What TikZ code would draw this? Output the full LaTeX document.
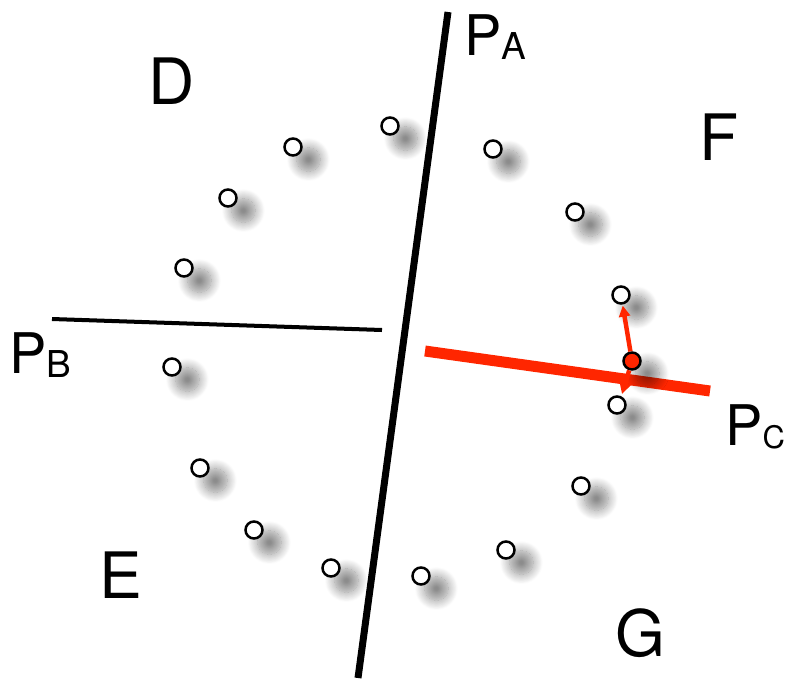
\documentclass[tikz,border=0pt]{standalone}
\usepackage{fontspec}
\setmainfont{TeX Gyre Heros}
\usetikzlibrary{arrows.meta,shadows.blur}
\definecolor{PlaneRed}{RGB}{255,38,0}
\newcommand{\planelabel}[1]{P\raisebox{-4pt}{\fontsize{37}{40}\selectfont #1}}

\begin{document}
\begin{tikzpicture}[x=1pt, y=-1pt,
    every node/.style={inner sep=0pt},
    region/.style={font=\fontsize{64}{70}\selectfont, anchor=base},
    planename/.style={font=\fontsize{56}{60}\selectfont, anchor=base west},
    sample/.style={circle, draw=black, fill=white, line width=2.5pt, minimum size=17pt,
        blur shadow={shadow xshift=11pt, shadow yshift=-9pt, shadow scale=1.4,
            shadow blur radius=7pt, shadow blur steps=16, shadow opacity=45}},
    chosen/.style={sample, fill=PlaneRed},
    pointer/.style={PlaneRed, line width=4.5pt, -{Triangle[length=11pt,width=11pt]}},
]
\useasboundingbox (0,0) rectangle (800,681);

% splitting planes
\coordinate (pa top) at (448,12);
\coordinate (pa bot) at (358,678);
\coordinate (pb left) at (52,319);
\coordinate (pb right) at (382,330);
\coordinate (pc left) at (425,351);
\coordinate (pc right) at (710,391);
\draw[line width=7pt] (pa top) -- (pa bot);
\draw[line width=4pt] (pb left) -- (pb right);
\draw[PlaneRed, line width=11pt] (pc left) -- (pc right);

% samples on the circle
\foreach \x/\y [count=\i] in {390/126, 293/147, 228/198, 184/268, 172/367, 200/468,
    254/530, 331/568, 421/576, 506/550, 581/486, 617/405, 621/295, 575/212, 493/149}
    \node[sample] (p\i) at (\x,\y) {};
\node[chosen] (q) at (632,361) {};

\coordinate (foot) at (622,394);
\draw[pointer, shorten >=1pt] (q) -- (p13);
\draw[pointer] (q) -- (foot);

% labels
\node[region] (D) at (172,104) {D};
\node[region] (F) at (719,160) {F};
\node[region] (E) at (121,598) {E};
\node[region] (G) at (640,656) {G};
\node[planename] (PA) at (464,55) {\planelabel{A}};
\node[planename] (PB) at (9,373) {\planelabel{B}};
\node[planename] (PC) at (725,445) {P\raisebox{-3pt}{\fontsize{31}{34}\selectfont C}};
\end{tikzpicture}
\end{document}
